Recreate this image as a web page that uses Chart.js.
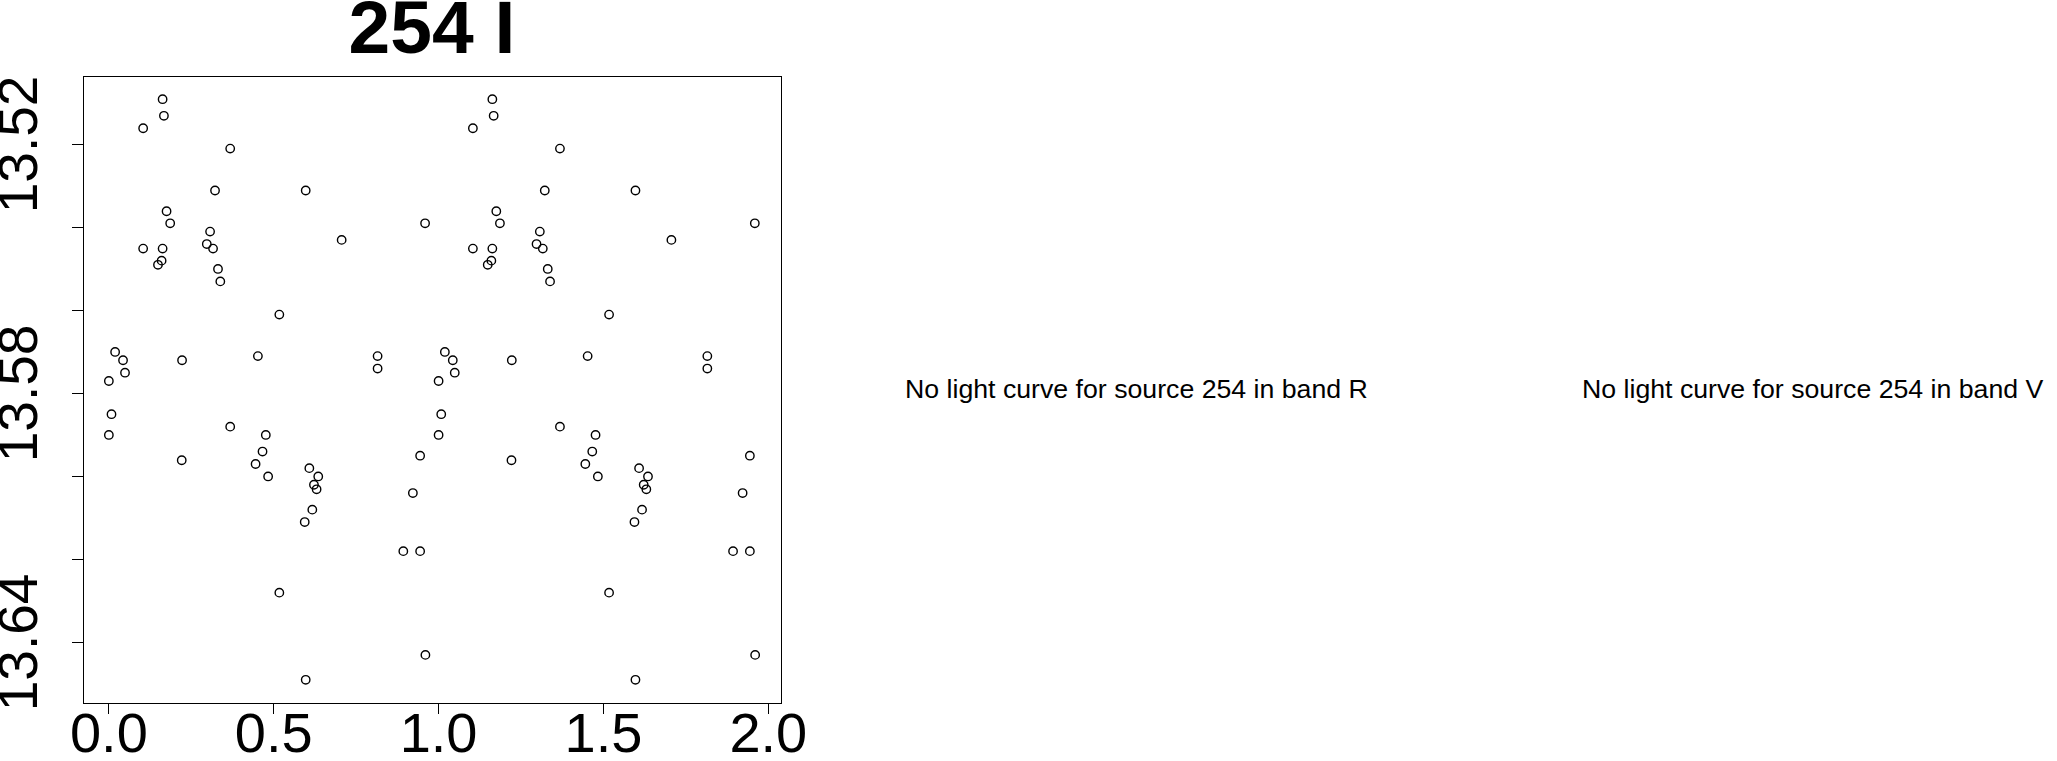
<html>
    <head>
        <script src='https://cdn.jsdelivr.net/npm/chart.js'></script>
    </head>
    <style>
        body { margin: 0; background: #fff; overflow: hidden; }
        #wrap { position: absolute; left: 0; top: 0; width: 860px; height: 761px; }
        .msg {
            position: absolute; top: 376px; white-space: nowrap;
            font-family: 'Liberation Sans', Arial, sans-serif; font-size: 26.7px; line-height: 26.7px; color: #000;
        }
    </style>
    <body>
        <div id='wrap'><canvas id='lc'></canvas></div>
        <div class='msg' style='left:905px'>No light curve for source 254 in band R</div>
        <div class='msg' style='left:1582px'>No light curve for source 254 in band V</div>
        <script>
            // phase-folded light curve, source 254, band I (two cycles)
            var phase = [
                0.000, 0.000, 0.008, 0.019, 0.043, 0.049, 0.104, 0.104, 0.149, 0.160,
                0.163, 0.163, 0.167, 0.175, 0.186, 0.221, 0.222, 0.297, 0.307, 0.316,
                0.322, 0.331, 0.338, 0.368, 0.368, 0.445, 0.452, 0.466, 0.476, 0.483,
                0.517, 0.517, 0.594, 0.597, 0.597, 0.608, 0.617, 0.622, 0.630, 0.635,
                0.706, 0.815, 0.815, 0.893, 0.922, 0.944, 0.944, 0.959, 0.960,
                1.000, 1.000, 1.008, 1.019, 1.043, 1.049, 1.104, 1.104, 1.149, 1.160,
                1.163, 1.163, 1.167, 1.175, 1.186, 1.221, 1.222, 1.297, 1.307, 1.316,
                1.322, 1.331, 1.338, 1.368, 1.368, 1.445, 1.452, 1.466, 1.476, 1.483,
                1.517, 1.517, 1.594, 1.597, 1.597, 1.608, 1.617, 1.622, 1.630, 1.635,
                1.706, 1.815, 1.815, 1.893, 1.922, 1.944, 1.944, 1.959, 1.960
            ];
            var mag = [
                13.5770, 13.5900, 13.5850, 13.5700, 13.5720, 13.5750, 13.5161, 13.5451, 13.5490, 13.5480,
                13.5091, 13.5451, 13.5131, 13.5361, 13.5390, 13.5961, 13.5720, 13.5440, 13.5410, 13.5451,
                13.5311, 13.5500, 13.5530, 13.5210, 13.5880, 13.5970, 13.5710, 13.5940, 13.5900, 13.6000,
                13.5610, 13.6280, 13.6110, 13.5311, 13.6490, 13.5980, 13.6080, 13.6020, 13.6031, 13.6000,
                13.5430, 13.5710, 13.5740, 13.6180, 13.6040, 13.5950, 13.6180, 13.5390, 13.6430,
                13.5770, 13.5900, 13.5850, 13.5700, 13.5720, 13.5750, 13.5161, 13.5451, 13.5490, 13.5480,
                13.5091, 13.5451, 13.5131, 13.5361, 13.5390, 13.5961, 13.5720, 13.5440, 13.5410, 13.5451,
                13.5311, 13.5500, 13.5530, 13.5210, 13.5880, 13.5970, 13.5710, 13.5940, 13.5900, 13.6000,
                13.5610, 13.6280, 13.6110, 13.5311, 13.6490, 13.5980, 13.6080, 13.6020, 13.6031, 13.6000,
                13.5430, 13.5710, 13.5740, 13.6180, 13.6040, 13.5950, 13.6180, 13.5390, 13.6430
            ];
            var xTicks = [0, 0.5, 1.0, 1.5, 2.0];
            var xTickLabels = ['0.0', '0.5', '1.0', '1.5', '2.0'];
            var yTicks = [13.52, 13.54, 13.56, 13.58, 13.60, 13.62, 13.64];
            var yTickLabels = ['13.52', '', '', '13.58', '', '', '13.64'];

            var font = "'Liberation Sans', Arial, sans-serif";

            // R style axis limits: data range stretched by 4%
            function pad4(arr) {
                var lo = Math.min.apply(null, arr), hi = Math.max.apply(null, arr);
                var d = (hi - lo) * 0.04;
                return [lo - d, hi + d];
            }
            var xr = pad4(phase), yr = pad4(mag);

            var boxPlugin = {
                id: 'box',
                afterDraw: function(chart) {
                    var a = chart.chartArea, ctx = chart.ctx;
                    ctx.save();
                    ctx.strokeStyle = '#000';
                    ctx.lineWidth = 1;
                    ctx.strokeRect(a.left + 0.5, a.top + 0.5, a.right - a.left, a.bottom - a.top);
                    ctx.restore();
                }
            };

            var pts = phase.map(function(p, i) { return {x: p, y: mag[i]}; });

            new Chart('lc', {
                type: 'scatter',
                data: {
                    datasets: [{
                        data: pts,
                        pointStyle: 'circle',
                        pointRadius: 4.2,
                        pointHoverRadius: 4.2,
                        borderWidth: 1.4,
                        borderColor: '#000',
                        backgroundColor: 'rgba(0,0,0,0)'
                    }]
                },
                options: {
                    responsive: true,
                    maintainAspectRatio: false,
                    animation: false,
                    events: [],
                    layout: { padding: { left: 0, right: 79, top: 0, bottom: 0 } },
                    plugins: {
                        legend: { display: false },
                        tooltip: { enabled: false },
                        title: {
                            display: true,
                            fullSize: false,
                            text: '254 I',
                            color: '#000',
                            font: { family: font, size: 75, weight: 'bold', lineHeight: 1 },
                            padding: { top: -5, bottom: 6 }
                        }
                    },
                    scales: {
                        x: {
                            type: 'linear',
                            min: xr[0],
                            max: xr[1],
                            afterBuildTicks: function(axis) {
                                axis.ticks = xTicks.map(function(v) { return {value: v}; });
                            },
                            afterFit: function(axis) { axis.height = 58; },
                            border: { display: false },
                            grid: { drawOnChartArea: false, drawTicks: true, tickLength: 11, color: '#000', lineWidth: 1 },
                            ticks: {
                                autoSkip: false,
                                maxRotation: 0,
                                padding: -5,
                                color: '#000',
                                font: { family: font, size: 56, lineHeight: 1 },
                                callback: function(v, i) { return xTickLabels[i]; }
                            }
                        },
                        y: {
                            type: 'linear',
                            reverse: true,
                            min: yr[0],
                            max: yr[1],
                            afterBuildTicks: function(axis) {
                                axis.ticks = yTicks.map(function(v) { return {value: v}; });
                            },
                            afterFit: function(axis) { axis.width = 83; },
                            border: { display: false },
                            grid: { drawOnChartArea: false, drawTicks: true, tickLength: 11, color: '#000', lineWidth: 1 },
                            ticks: {
                                autoSkip: false,
                                minRotation: 90,
                                maxRotation: 90,
                                crossAlign: 'center',
                                padding: -19,
                                color: '#000',
                                font: { family: font, size: 55, lineHeight: 1 },
                                callback: function(v, i) { return yTickLabels[i]; }
                            }
                        }
                    }
                },
                plugins: [boxPlugin]
            });
        </script>
    </body>
</html>
